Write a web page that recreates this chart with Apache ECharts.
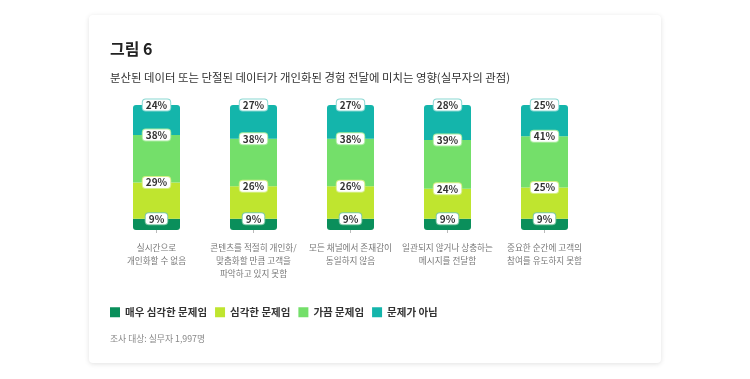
<!DOCTYPE html>
<html><head><meta charset="utf-8">
<script src="https://cdn.jsdelivr.net/npm/echarts@6/dist/echarts.min.js"></script>
<style>
html,body{margin:0;padding:0;background:#fff;}
#card{position:absolute;left:89px;top:15px;width:572px;height:348px;background:#fff;border-radius:4px;box-shadow:0 1px 5px rgba(0,0,0,0.12);}
#chart{position:absolute;left:0;top:0;width:750px;height:379px;}
</style></head>
<body>
<div id="card"></div>
<div id="chart"></div>
<script>
const categories = [
  '실시간으로\n개인화할 수 없음',
  '콘텐츠를 적절히 개인화/\n맞춤화할 만큼 고객을\n파악하고 있지 못함',
  '모든 채널에서 존재감이\n동일하지 않음',
  '일관되지 않거나 상충하는\n메시지를 전달함',
  '중요한 순간에 고객의\n참여를 유도하지 못함'
];
const seriesNames = ['매우 심각한 문제임', '심각한 문제임', '가끔 문제임', '문제가 아님'];
const verySerious = [9, 9, 9, 9, 9];
const serious = [29, 26, 26, 24, 25];
const sometimes = [38, 38, 38, 39, 41];
const notProblem = [24, 27, 27, 28, 25];
const colors = ['#0a8f5b', '#bfe52f', '#74df6a', '#14b5ab'];
const borderColors = ['#7cc9a4', '#d6ef86', '#a9ec9f', '#8ad8d2'];

const allData = [verySerious, serious, sometimes, notProblem];
const radii = [[0,0,3,3],[0,0,0,0],[0,0,0,0],[3,3,0,0]];

const chart = echarts.init(document.getElementById('chart'));
const font = '"Noto Sans CJK KR", "Noto Sans", sans-serif';
chart.setOption({
  textStyle: { fontFamily: font },
  title: [
    { text: '그림 6', left: 105, top: 36, textStyle: { fontSize: 16, fontWeight: 'bold', color: '#222', fontFamily: font } },
    { text: '분산된 데이터 또는 단절된 데이터가 개인화된 경험 전달에 미치는 영향(실무자의 관점)', left: 105, top: 67, textStyle: { fontSize: 11.4, fontWeight: 'normal', color: '#333', fontFamily: font } },
    { text: '조사 대상: 실무자 1,997명', left: 105, top: 329, textStyle: { fontSize: 8.8, fontWeight: 'normal', color: '#888', fontFamily: font } }
  ],
  legend: {
    left: 105, top: 302, icon: 'rect', itemWidth: 10, itemHeight: 10, itemGap: 8,
    textStyle: { fontSize: 10.5, fontWeight: 'bold', color: '#333', fontFamily: font },
    data: seriesNames
  },
  grid: { left: 108, right: 157, top: 105, bottom: 149 },
  xAxis: {
    type: 'category', data: categories,
    axisLine: { show: false },
    axisTick: { show: true, alignWithLabel: true, length: 3, lineStyle: { color: '#bbb' } },
    axisLabel: { color: '#777', fontSize: 8.6, lineHeight: 13, margin: 11, interval: 0, fontFamily: font }
  },
  yAxis: { type: 'value', min: 0, max: 100, show: false },
  series: allData.map((d, i) => ({
    name: seriesNames[i], type: 'bar', stack: 'total', barWidth: 47,
    data: d,
    itemStyle: { color: colors[i], borderRadius: radii[i] },
    label: {
      show: true, position: ['50%', 0], align: 'center', verticalAlign: 'middle',
      formatter: '{c}%', fontSize: 10, fontWeight: 'bold', color: '#333',
      backgroundColor: '#fff', borderColor: borderColors[i], borderWidth: 1, borderRadius: 3,
      padding: [1, 3, 0, 3], fontFamily: font
    }
  }))
});
</script>
</body></html>
